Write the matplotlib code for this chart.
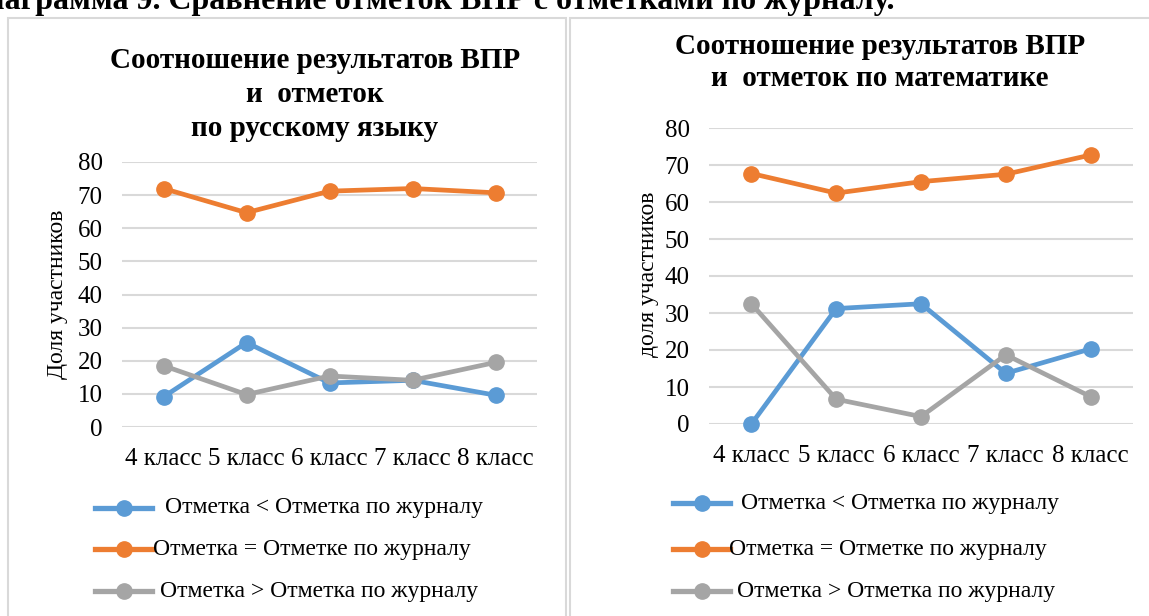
import matplotlib
matplotlib.use("Agg")
import matplotlib.pyplot as plt
from matplotlib.lines import Line2D
from matplotlib.patches import Rectangle

plt.rcParams['font.family'] = ['Liberation Serif', 'DejaVu Serif']

categories = ["4 класс", "5 класс", "6 класс", "7 класс", "8 класс"]
series_names = [" Отметка < Отметка по журналу",
                "Отметка = Отметке по журналу",
                " Отметка > Отметка по журналу"]
colors = ["#5B9BD5", "#ED7D31", "#A5A5A5"]

rus_less = [9.1, 25.5, 13.3, 14.1, 9.6]
rus_equal = [72.0, 64.7, 71.2, 72.0, 70.7]
rus_more = [18.5, 9.8, 15.4, 14.1, 19.5]

math_less = [0.0, 31.2, 32.5, 13.7, 20.3]
math_equal = [67.7, 62.4, 65.5, 67.5, 72.7]
math_more = [32.5, 6.7, 2.0, 18.7, 7.4]

yticks = [0, 10, 20, 30, 40, 50, 60, 70, 80]

W, H = 1149, 616
fig = plt.figure(figsize=(W / 100, H / 100), dpi=100)

def fx(px):
    return px / W

def fy(py):
    return 1 - py / H

# panel borders
for (x0, x1) in [(8, 566), (570, 1160)]:
    fig.add_artist(Rectangle((fx(x0), fy(640)), fx(x1) - fx(x0), fy(18) - fy(640),
                             transform=fig.transFigure, fill=False,
                             edgecolor="#D9D9D9", linewidth=1.5))

# clipped header
fig.text(fx(895), fy(9), "Диаграмма 9. Сравнение отметок ВПР с отметками по журналу.",
         ha="right", va="baseline", fontsize=23, fontweight="bold")

def draw(ax, data, ylabel):
    x = range(len(categories))
    for vals, c in zip(data, colors):
        ax.plot(x, vals, color=c, linewidth=3.4, marker="o", markersize=11,
                solid_capstyle="round")
    ax.set_xlim(-0.5, len(categories) - 0.5)
    ax.set_ylim(0, 80)
    ax.set_yticks(yticks)
    ax.set_xticks(list(x))
    ax.set_xticklabels(categories)
    ax.grid(axis="y", color="#D9D9D9", linewidth=1.5)
    ax.set_axisbelow(True)
    for s in ax.spines.values():
        s.set_visible(False)
    ax.tick_params(length=0, labelsize=18, pad=14)
    ax.tick_params(axis="x", pad=15)
    ax.set_ylabel(ylabel, fontsize=17)
    for l in ax.lines:
        l.set_clip_on(False)

ax1 = fig.add_axes([fx(122), fy(427), fx(537) - fx(122), fy(162) - fy(427)])
draw(ax1, [rus_less, rus_equal, rus_more], "Доля участников")
ax1.yaxis.set_label_coords((68 - 122) / (537 - 122), 0.5)

ax2 = fig.add_axes([fx(709), fy(424), fx(1133) - fx(709), fy(128) - fy(424)])
draw(ax2, [math_less, math_equal, math_more], "доля участников")
ax2.yaxis.set_label_coords((659 - 709) / (1133 - 709), 0.505)

# titles
for txt, y in [("Соотношение результатов ВПР", 60), ("и  отметок", 95), ("по русскому языку", 129)]:
    fig.text(fx(315), fy(y), txt, ha="center", va="center", fontsize=21, fontweight="bold")
for txt, y in [("Соотношение результатов ВПР", 47), ("и  отметок по математике", 79)]:
    fig.text(fx(880), fy(y), txt, ha="center", va="center", fontsize=21, fontweight="bold")

# legends
def legend(x0, x1, rows, text_x):
    for c, name, y, tx in zip(colors, series_names, rows, text_x):
        fig.add_artist(Line2D([fx(x0), fx((x0 + x1) / 2), fx(x1)], [fy(y)] * 3,
                              transform=fig.transFigure, color=c, linewidth=3.8,
                              marker="o", markersize=11, markevery=[1]))
        fig.text(fx(tx), fy(y), name.strip(), ha="left", va="center", fontsize=17)

legend(95, 152, [508, 549, 591], [165, 153, 160])
legend(673, 730, [503, 549, 591], [741, 729, 737])

fig.savefig("out.png", dpi=100)
